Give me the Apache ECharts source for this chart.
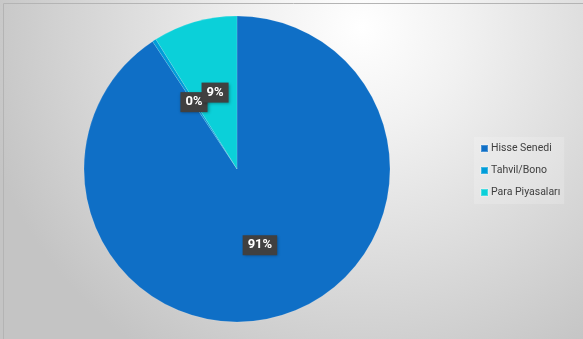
<!DOCTYPE html>
<html><head><meta charset="utf-8">
<script src="https://cdn.jsdelivr.net/npm/echarts@6/dist/echarts.min.js"></script>
<style>html,body{margin:0;padding:0;background:#fff}#c{width:583px;height:339px}</style>
</head><body><div id="c"></div>
<script>
const categories = ['Hisse Senedi', 'Tahvil/Bono', 'Para Piyasaları'];
const values = [90.7, 0.4, 8.9];
const labels = ['91%', '0%', '9%'];
const colors = ['#0F6FC6', '#009DD9', '#0BD0D9'];

const chart = echarts.init(document.getElementById('c'));
chart.setOption({
  backgroundColor: {
    type: 'radial', x: 0.62, y: 0.08, r: 1.15,
    colorStops: [{offset: 0, color: '#ffffff'}, {offset: 0.25, color: '#f2f2f2'}, {offset: 1, color: '#c4c4c4'}]
  },
  animation: false,
  graphic: [{
    type: 'rect', left: 1, top: 1, z: 100, silent: true,
    shape: {width: 580, height: 336},
    style: {fill: 'none', stroke: '#b4b4b4', lineWidth: 1}
  }],
  legend: {
    orient: 'vertical', left: 474, top: 137,
    itemWidth: 7, itemHeight: 7, itemGap: 11,
    icon: 'rect',
    padding: [6, 4, 6, 6],
    backgroundColor: 'rgba(255,255,255,0.18)',
    textStyle: {fontFamily: 'Roboto', fontSize: 10.5, color: '#404040', padding: [0, 0, 0, -2]},
    data: categories
  },
  series: [{
    type: 'pie',
    center: [237, 169], radius: 153,
    startAngle: 90, clockwise: true,
    avoidLabelOverlap: false,
    minShowLabelAngle: 0,
    labelLayout: {hideOverlap: false},
    itemStyle: {borderColor: 'rgba(255,255,255,0.25)', borderWidth: 0.5},
    label: {
      show: true, position: 'inside',
      formatter: p => labels[p.dataIndex],
      backgroundColor: '#404040', color: '#ffffff',
      fontFamily: 'Roboto', fontWeight: 'bold', fontSize: 13,
      padding: [4, 5, 3, 5],
      shadowColor: 'rgba(0,0,0,0.35)', shadowBlur: 3, shadowOffsetX: 1, shadowOffsetY: 1
    },
    labelLine: {show: false},
    emphasis: {disabled: true},
    data: categories.map((c, i) => ({name: c, value: values[i], itemStyle: {color: colors[i]}}))
  }]
});
</script></body></html>
